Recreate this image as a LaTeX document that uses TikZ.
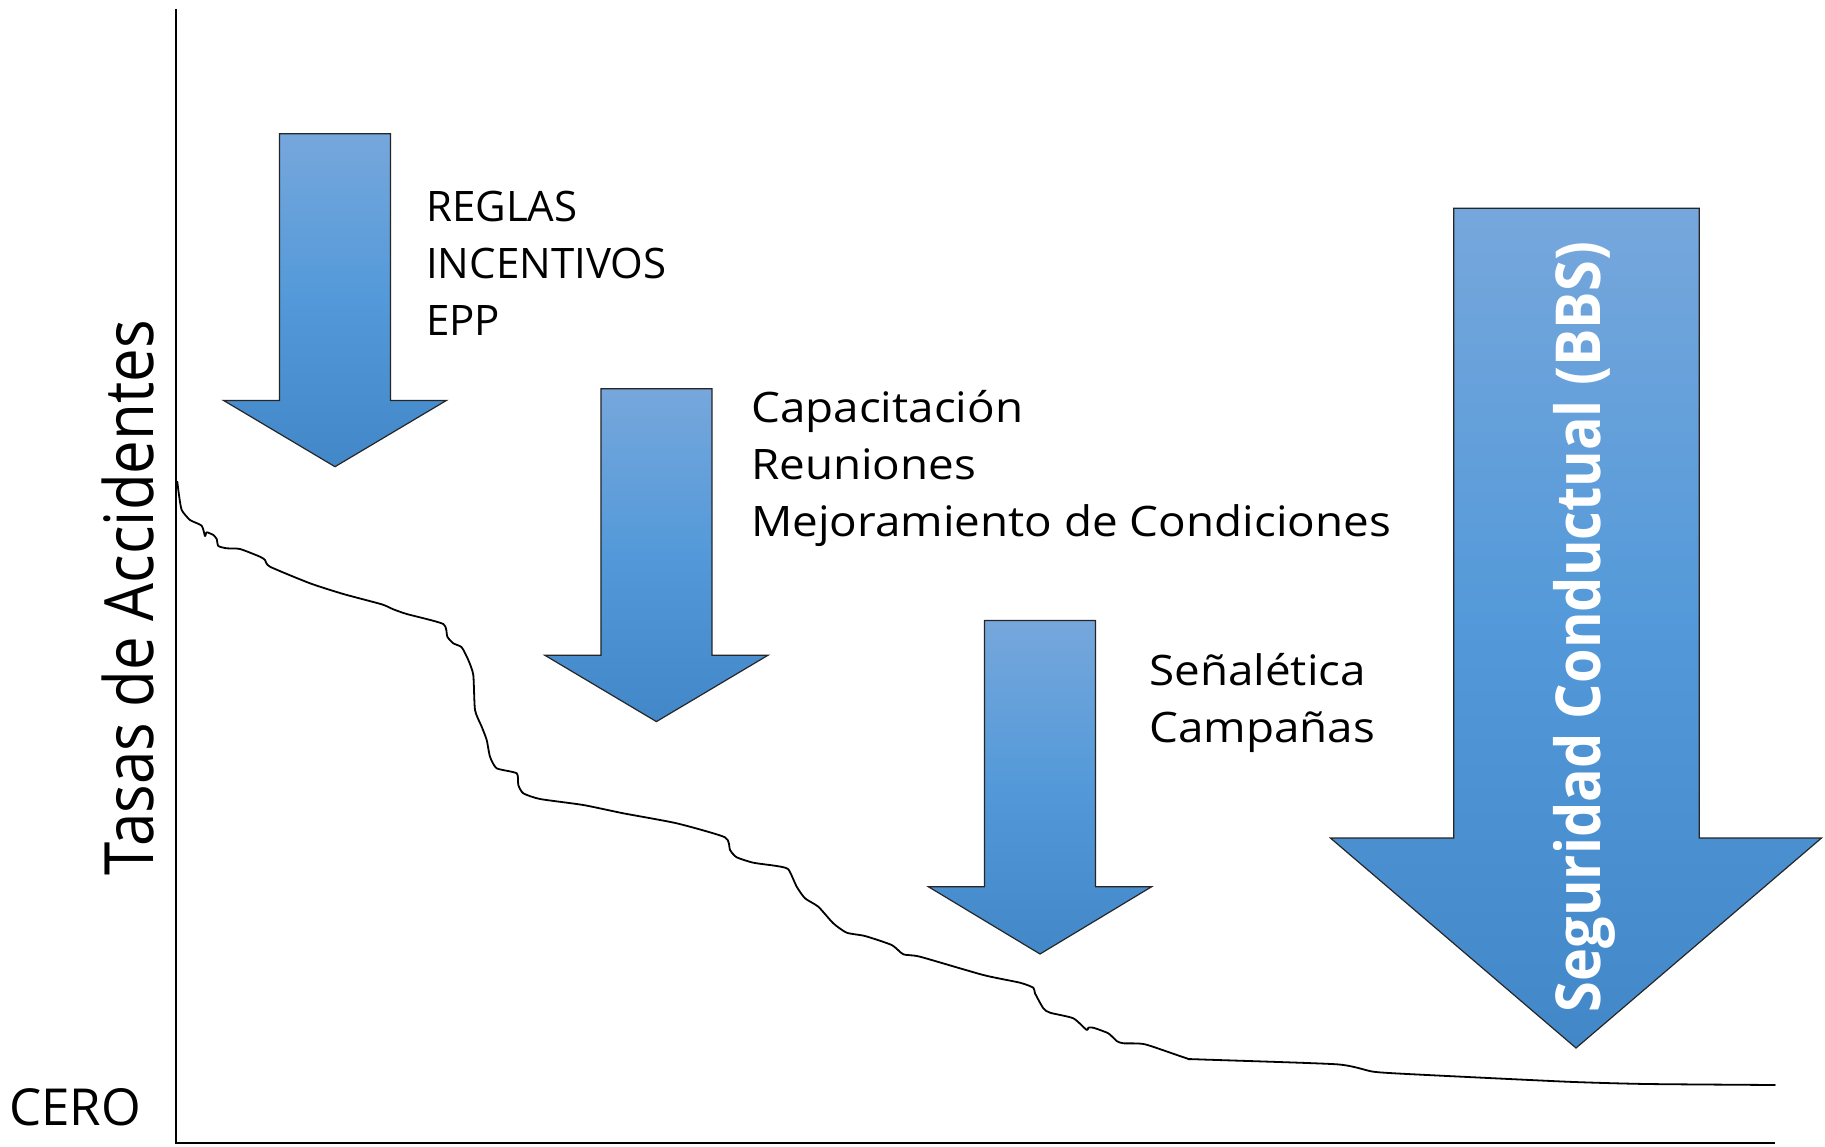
\documentclass[tikz,border=0pt]{standalone}
\usepackage{fontspec}
\setmainfont{Open Sans}
\usepackage{graphicx}
\definecolor{arrTop}{RGB}{118,167,220}
\definecolor{arrMid}{RGB}{83,153,217}
\definecolor{arrBot}{RGB}{66,136,201}
\newcommand{\xwide}[1]{\scalebox{1.09}[1]{#1}}
\tikzset{
  arrowshape/.style={draw=black!85, line width=1.2pt, line join=miter,
    top color=arrTop, bottom color=arrBot, middle color=arrMid},
  axisline/.style={draw=black, line width=2pt},
  curveline/.style={draw=black, line width=1.8pt, line join=round, line cap=round},
  txt/.style={anchor=base west, inner sep=0pt, font=\fontsize{42}{50}\selectfont},
}
\begin{document}
\begin{tikzpicture}[x=1pt,y=-1pt]
\useasboundingbox[fill=white] (0,0) rectangle (1825,1147);

% axes
\coordinate (ytop) at (175.5,9);
\coordinate (origin) at (175.5,1143);
\coordinate (xend) at (1775,1143);
\draw[axisline] (ytop) -- (origin) -- (xend);

% accident-rate curve
\draw[curveline] plot[smooth, tension=0.35] coordinates {
(177.3,481.7) (179,495) (181.7,510) (190,520) (201.7,525.7) (205,536)
(206.7,532.3) (213.3,535) (216.7,539) (218.3,546) (226.7,548.3) (240,549)
(260,556.7) (265,560) (270,566.7) (310,583.3) (343.3,594) (381.7,604.3)
(393.3,609.3) (406.7,614) (443.3,624) (447.3,636.7) (453.3,643.3) (461.7,647.3)
(468.3,660) (473.3,675) (475,710) (481.7,726.7) (486.7,740) (490,756.7)
(496.7,768.3) (516.7,773.3) (518.3,785) (523.3,793.3) (540,799) (583.3,805)
(623.3,813.3) (676.7,823.3) (725,837.3) (730,850) (736.7,857.3) (753.3,862.7)
(776.7,866) (788.3,869.3) (796.7,886.7) (805,898.3) (818.3,906.7) (833.3,923.3)
(846.7,932.7) (865,936) (891.7,945) (903.3,954.3) (920,956.7) (983.3,975)
(1020,982.7) (1033.3,987.7) (1035,993.3) (1043.3,1008.3) (1050,1012.7)
(1073.3,1018.3) (1086.7,1030) (1088.3,1027.7) (1093.3,1027.7) (1108.3,1033.3)
(1116.7,1041) (1123.3,1043.3) (1145,1044.3) (1186.7,1058.3) (1196.7,1059.3)
(1336.7,1064.3) (1373.3,1071.7) (1413.3,1074.3) (1566.7,1081.7) (1646.7,1084)
(1775,1085)};

% arrows
\path[arrowshape] (279.5,133.8) -- (390.5,133.8) -- (390.5,400.4) -- (446.5,400.4)
  -- (335,466.7) -- (223.5,400.4) -- (279.5,400.4) -- cycle;
\path[arrowshape] (600.9,388.7) -- (711.9,388.7) -- (711.9,655.3) -- (767.9,655.3)
  -- (656.4,721.6) -- (544.9,655.3) -- (600.9,655.3) -- cycle;
\path[arrowshape] (984.5,620.4) -- (1095.5,620.4) -- (1095.5,886.8) -- (1151.5,886.8)
  -- (1040,954) -- (928.5,886.8) -- (984.5,886.8) -- cycle;
\path[arrowshape] (1453.7,208.3) -- (1699.3,208.3) -- (1699.3,838) -- (1821.5,838)
  -- (1576,1048) -- (1330.4,838) -- (1453.7,838) -- cycle;

% labels
\node[txt] (reglas) at (426,222) {REGLAS};
\node[txt] (incent) at (426,279) {INCENTIVOS};
\node[txt] (epp) at (426,336) {EPP};
\node[txt] (capac) at (751,422) {\xwide{Capacitación}};
\node[txt] (reun) at (751,479) {\xwide{Reuniones}};
\node[txt] (mejora) at (751,536) {\xwide{Mejoramiento de Condiciones}};
\node[txt] (senal) at (1149,685) {\xwide{Señalética}};
\node[txt] (campa) at (1149,742) {\xwide{Campañas}};
\node[anchor=base west, inner sep=0pt, font=\fontsize{51}{60}\selectfont] (cero) at (9,1125) {CERO};
\node[rotate=90, anchor=base, inner sep=0pt] (tasas) at (153,597.7)
  {\resizebox{555pt}{\height}{\fontsize{68}{80}\selectfont Tasas de Accidentes}};
\node[rotate=90, anchor=base, inner sep=0pt, text=white] (bbs) at (1600,627)
  {\resizebox{770pt}{\height}{\fontsize{62}{72}\selectfont\bfseries Seguridad Conductual (BBS)}};
\end{tikzpicture}
\end{document}
